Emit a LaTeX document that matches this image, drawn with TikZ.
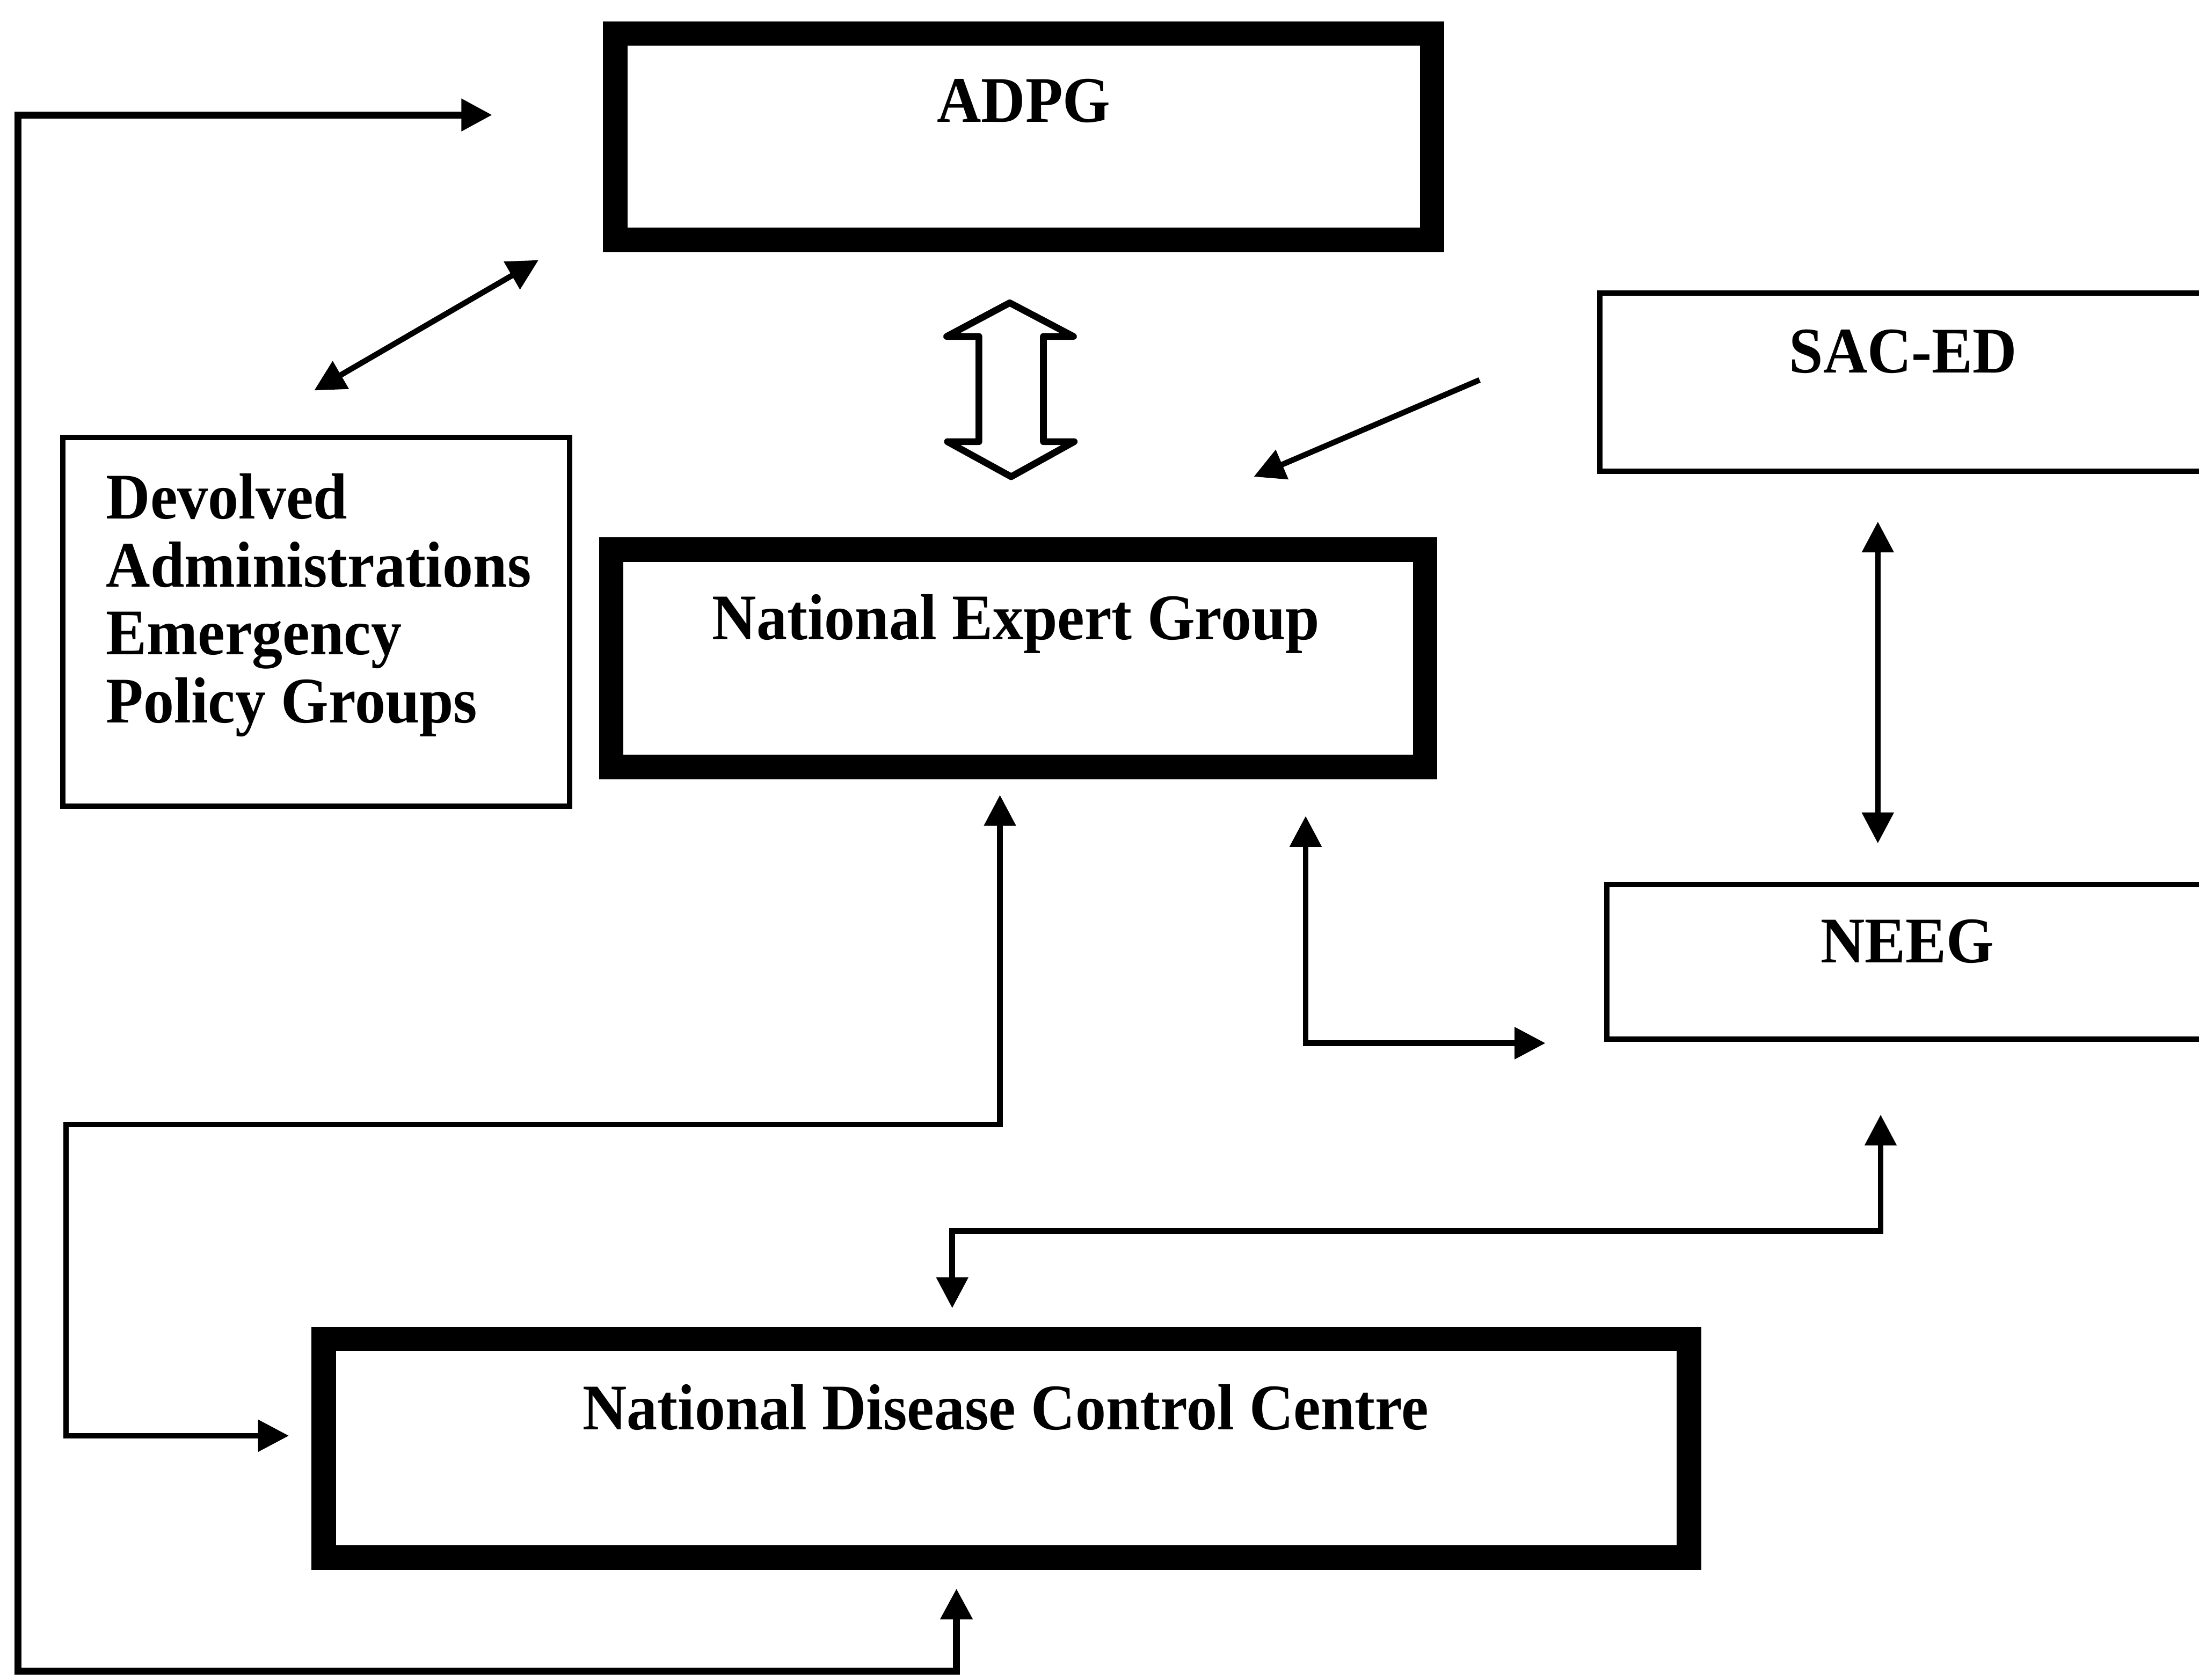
\documentclass[tikz,border=0pt]{standalone}
\usepackage{fontspec}
\setmainfont{Liberation Serif}[FakeStretch=0.94]
\usetikzlibrary{arrows.meta}
\tikzset{
  thickbox/.style={draw, line width=4.98pt, inner sep=0pt},
  thinbox/.style={draw, line width=1.08pt, inner sep=0pt},
  lbl/.style={inner sep=0pt, font=\fontsize{13.2}{13.8}\selectfont\bfseries},
  conn/.style={line width=1.14pt, line join=miter},
  outer/.style={line width=1.42pt, line join=miter},
  tip/.tip={Triangle[length=0.22cm, width=0.22cm]},
  hollow/.style={line width=1.37pt, line join=round, fill=white}
}
\begin{document}
\begin{tikzpicture}[x=0.01cm, y=-0.01cm]
\useasboundingbox (0,0) rectangle (1568,1198);
\clip (0,0) rectangle (1568,1198);

% boxes
\node[thickbox, minimum width=5.82cm, minimum height=1.47cm] (adpg) at (730,97.5) {};
\node[thickbox, minimum width=5.80cm, minimum height=1.55cm] (neg) at (726,469.5) {};
\node[thickbox, minimum width=9.73cm, minimum height=1.56cm] (ndcc) at (717.5,1033) {};
\node[thinbox, minimum width=4.79cm, minimum height=1.27cm] (saced) at (1380.5,272.7) {};
\node[thinbox, minimum width=4.74cm, minimum height=1.10cm] (neeg) at (1383,686) {};
\node[thinbox, minimum width=3.61cm, minimum height=2.63cm] (dev) at (225.5,443.5) {};

% labels
\node[lbl, anchor=base] (adpgT) at (730,87) {ADPG};
\node[lbl, anchor=base] (negT) at (724.5,456) {National Expert Group};
\node[lbl, anchor=base] (ndccT) at (717,1019.5) {National Disease Control Centre};
\node[lbl, anchor=base] (sacedT) at (1357,266) {SAC-ED};
\node[lbl, anchor=base] (neegT) at (1360,686.5) {NEEG};
\node[lbl, anchor=north west, align=left] (devT) at (75,337)
  {Devolved\\Administrations\\Emergency\\Policy Groups};

% hollow double arrow ADPG <-> NEG
\draw[hollow] (720,216) -- (765.5,240) -- (744,240) -- (744,315) -- (766,315)
  -- (721,340) -- (675.5,315) -- (698,315) -- (698,240) -- (675,240) -- cycle;

% connector end points
\coordinate (adpgA) at (351,82);
\coordinate (loopTL) at (13,82);
\coordinate (loopBL) at (13,1192);
\coordinate (loopBR) at (682,1192);
\coordinate (ndccA) at (682,1133);

\coordinate (devA) at (224,278.5);
\coordinate (adpgB) at (384,185.5);

\coordinate (sacedA) at (1055,271);
\coordinate (negA) at (894,340);

\coordinate (sacedB) at (1339,372);
\coordinate (neegA) at (1339,601.5);

\coordinate (negB) at (713,567);
\coordinate (negBk1) at (713,802);
\coordinate (negBk2) at (47,802);
\coordinate (negBk3) at (47,1024);
\coordinate (ndccB) at (206,1024);

\coordinate (negC) at (931,582);
\coordinate (negCk) at (931,744);
\coordinate (neegB) at (1102,744);

\coordinate (neegC) at (1341,795);
\coordinate (neegCk1) at (1341,878);
\coordinate (neegCk2) at (679,878);
\coordinate (ndccC) at (679,933);

% connectors
\draw[outer, tip-tip] (adpgA) -- (loopTL) -- (loopBL) -- (loopBR) -- (ndccA);
\draw[conn, tip-tip] (devA) -- (adpgB);
\draw[conn, -tip] (sacedA) -- (negA);
\draw[conn, tip-tip] (sacedB) -- (neegA);
\draw[conn, tip-tip] (negB) -- (negBk1) -- (negBk2) -- (negBk3) -- (ndccB);
\draw[conn, tip-tip] (negC) -- (negCk) -- (neegB);
\draw[conn, tip-tip] (neegC) -- (neegCk1) -- (neegCk2) -- (ndccC);
\end{tikzpicture}
\end{document}
